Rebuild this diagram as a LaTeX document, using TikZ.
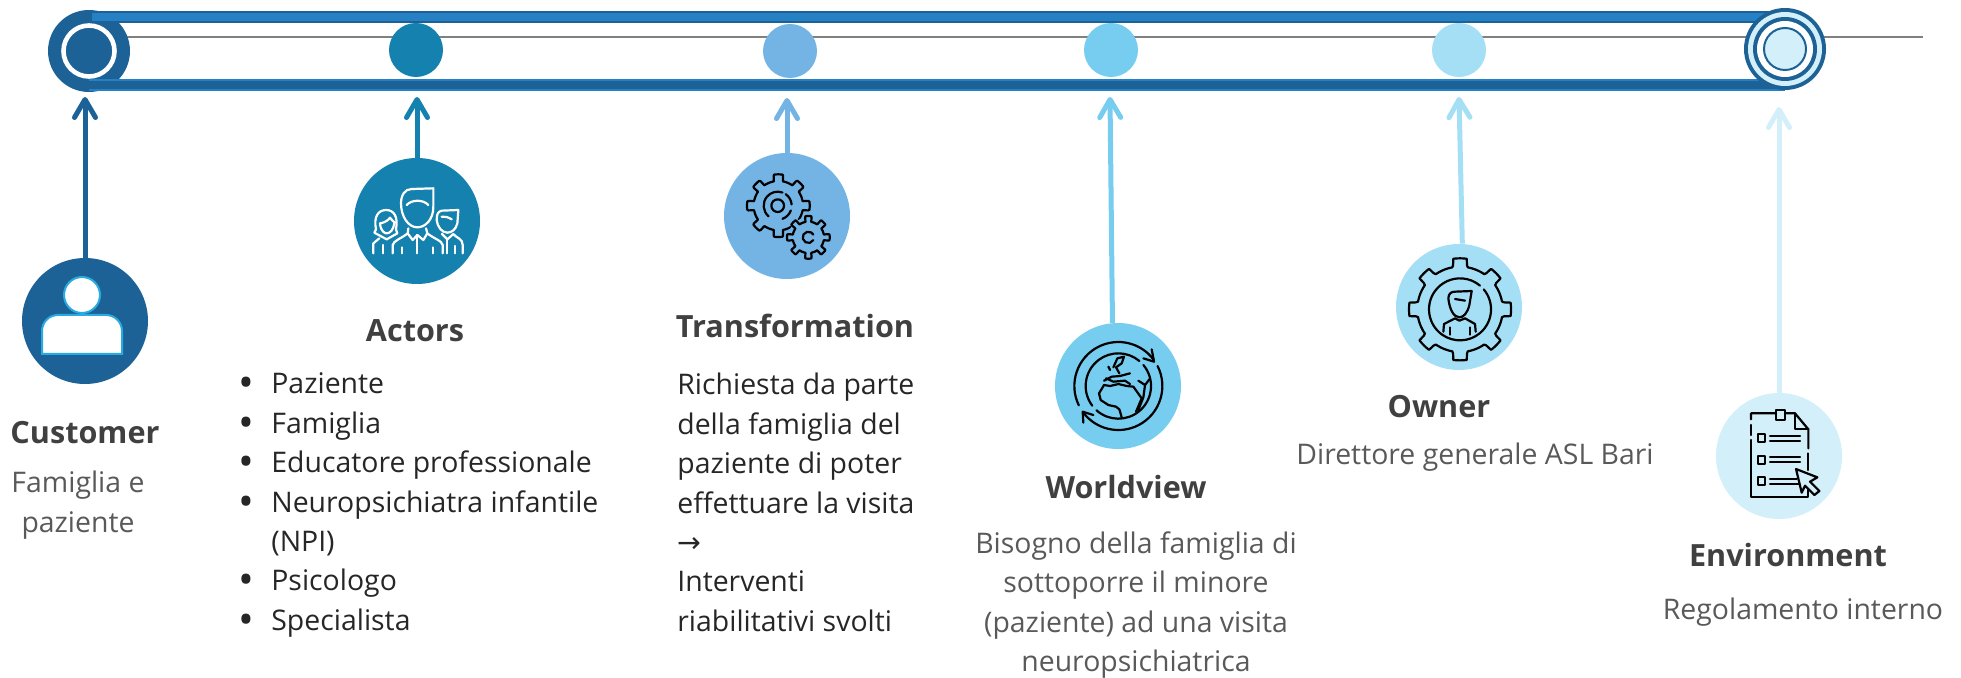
\documentclass[tikz,border=0pt]{standalone}
\usepackage{fontspec}
\setmainfont{Open Sans}
\newfontfamily\symbfont{DejaVu Sans}
\usepackage{tikz}
\usetikzlibrary{arrows.meta,positioning}
\definecolor{custC}{HTML}{1D6296}
\definecolor{actC}{HTML}{1581AF}
\definecolor{transC}{HTML}{73B4E4}
\definecolor{worldC}{HTML}{76CDF0}
\definecolor{ownC}{HTML}{A5DFF6}
\definecolor{envC}{HTML}{D3EFFA}
\definecolor{bandC}{HTML}{2581C4}
\definecolor{ringC}{HTML}{29ABE2}
\newcommand{\gearicon}[5]{\draw[icon] plot[samples=241,domain=0:360,variable=\t,smooth]
  ({#1+(#3+#4*max(0,min(1,4*(cos(8*\t)-#5))))*cos(\t)},{#2+(#3+#4*max(0,min(1,4*(cos(8*\t)-#5))))*sin(\t)}) -- cycle;}
\newcommand{\blt}{\raisebox{-2pt}{\fontsize{21}{19}\selectfont\textbullet}}

\begin{document}
\begin{tikzpicture}[>={Straight Barb[length=9pt,width=10.5pt,round]}, x=0.5pt, y=-0.5pt]
\tikzstyle{big}=[circle,inner sep=0pt,minimum size=63pt]
\tikzstyle{dot}=[circle,inner sep=0pt,minimum size=27pt]
\tikzstyle{disc}=[circle,inner sep=0pt]
\tikzstyle{flow}=[->,line width=2.5pt,line cap=butt]
\tikzstyle{title}=[font=\fontsize{15.3}{20}\selectfont\bfseries,text=black!75,inner sep=0pt]
\tikzstyle{body}=[font=\fontsize{14.2}{19.7}\selectfont,inner sep=0pt,align=center,text=black!65]
\tikzstyle{list}=[font=\fontsize{14.2}{19.7}\selectfont,inner sep=0pt,align=left,text=black!85]
\tikzstyle{icon}=[line width=1.1pt,draw=black,line cap=round,line join=round]
\tikzstyle{wicon}=[line width=1.1pt,draw=white,line cap=round,line join=round]
\useasboundingbox (0,0) rectangle (1961,678);

% timeline
\coordinate (axisL) at (89,37);
\coordinate (axisR) at (1923,37);
\draw[black!50,line width=.6pt] (axisL) -- (axisR);

\node[disc,fill=custC,minimum size=41pt] (hubL) at (89,51) {};
\node[disc,fill=custC,draw=white,line width=2.3pt,minimum size=25.5pt] (hubLi) at (hubL) {};

\coordinate (topL) at (92,17);
\coordinate (topR) at (1785,17);
\coordinate (lowL) at (89,85);
\coordinate (lowR) at (1785,85);
\draw[custC,line width=6pt] (topL) -- (topR);
\draw[bandC,line width=3.6pt] (topL) -- (topR);
\draw[bandC,line width=6pt] (lowL) -- (lowR);
\draw[custC,line width=3.6pt] (lowL) -- (lowR);

\node[disc,fill=custC,minimum size=41pt] (hubR) at (1785,49) {};
\node[disc,fill=envC,minimum size=37pt] (hubRa) at (hubR) {};
\node[disc,fill=custC,minimum size=32pt] (hubRb) at (hubR) {};
\node[disc,fill=white,minimum size=28pt] (hubRc) at (hubR) {};
\node[disc,fill=envC,draw=custC,line width=1pt,minimum size=21pt] (hubRd) at (hubR) {};

\node[dot,fill=actC]   (dotA) at (416,50)  {};
\node[dot,fill=transC] (dotT) at (790,51)  {};
\node[dot,fill=worldC] (dotW) at (1111,50) {};
\node[dot,fill=ownC]   (dotO) at (1459,50) {};

% circles
\node[big,fill=custC]  (customer) at (85,321)   {};
\node[big,fill=actC]   (actors)   at (417,221)  {};
\node[big,fill=transC] (transf)   at (787,216)  {};
\node[big,fill=worldC] (worldv)   at (1118,386) {};
\node[big,fill=ownC]   (owner)    at (1459,307) {};
\node[big,fill=envC]   (environ)  at (1779,456) {};

\coordinate (tipC) at (85,97);
\coordinate (tipA) at (417,97);
\coordinate (tipT) at (787,98);
\coordinate (tipW) at (1110,97);
\coordinate (tipO) at (1459,97);
\coordinate (tipE) at (1779,107);

\path
(customer.north) edge[flow,custC]   (tipC)
(actors.north)   edge[flow,actC]    (tipA)
(transf.north)   edge[flow,transC]  (tipT)
(worldv.95)      edge[flow,worldC]  (tipW)
(owner.87)       edge[flow,ownC]    (tipO)
(environ.north)  edge[flow,envC]    (tipE);

% customer icon
\draw[fill=white,draw=ringC,line width=1pt] (82,295) circle (18);
\draw[fill=white,draw=ringC,line width=1pt] (42,354) {[rounded corners=8pt] -- (42,315) -- (122,315)} -- (122,354) -- cycle;

% actors icon
\begin{scope}[shift={(340,170)},x=0.1667pt,y=-0.1667pt]
\draw[wicon] (183,100) .. controls (183,75) and (195,57) .. (215,57) -- (280,55) -- (280,110) .. controls (280,150) and (255,172) .. (232,172) .. controls (205,172) and (183,140) .. (183,100);
\draw[wicon] (200,105) .. controls (215,88) and (250,88) .. (265,105);
\draw[wicon] (158,250) -- (158,225) .. controls (160,212) and (185,205) .. (203,190) -- (205,175);
\draw[wicon] (308,250) -- (308,225) .. controls (306,212) and (280,205) .. (262,190) -- (258,175);
\draw[wicon] (203,190) -- (218,210) -- (232,195) -- (250,210) -- (262,190);
\draw[wicon] (232,195) -- (232,250) (185,232) -- (185,250) (278,232) -- (278,250);
\draw[wicon] (108,178) .. controls (100,140) and (115,120) .. (138,120) .. controls (162,120) and (175,140) .. (168,178);
\draw[wicon] (120,160) .. controls (135,158) and (145,150) .. (150,143) .. controls (155,150) and (160,155) .. (165,158);
\draw[wicon] (120,160) .. controls (122,185) and (135,190) .. (140,190) .. controls (150,190) and (160,180) .. (163,160);
\draw[wicon] (108,178) -- (103,188) -- (140,208) -- (172,190) -- (168,178);
\draw[wicon] (100,250) -- (100,220) -- (118,205);
\draw[wicon] (128,225) -- (128,250);
\draw[wicon] (290,150) .. controls (290,130) and (295,125) .. (305,122) -- (355,120) -- (352,160) .. controls (348,178) and (335,188) .. (322,188) .. controls (305,188) and (292,170) .. (290,150);
\draw[wicon] (305,140) .. controls (315,138) and (325,142) .. (335,148);
\draw[wicon] (306,192) -- (322,208) -- (340,192) .. controls (350,205) and (368,205) .. (368,225) -- (368,250);
\draw[wicon] (322,208) -- (322,250) (345,228) -- (345,250);
\end{scope}

% transformation icon
\begin{scope}[shift={(700,130)},x=0.1667pt,y=-0.1667pt]
\gearicon{235}{227}{74}{20}{.1}
\draw[icon] (233,227) circle (19);
\draw[icon] ([shift={(233,227)}]130:42) arc[start angle=130,end angle=290,radius=42];
\draw[icon] ([shift={(233,227)}]305:42) arc[start angle=305,end angle=355,radius=42];
\draw[icon] ([shift={(233,227)}]20:42) arc[start angle=20,end angle=70,radius=42];
\draw[fill=transC,draw=none] (325,322) circle (60);
\gearicon{325}{322}{47}{17}{.1}
\draw[icon] ([shift={(325,322)}]30:17) arc[start angle=30,end angle=330,radius=17];
\end{scope}

% worldview icon
\begin{scope}[shift={(1030,310)},x=0.1667pt,y=-0.1667pt]
\draw[icon] ([shift={(265,228)}]154:132) arc[start angle=154,end angle=323,radius=132];
\draw[icon] (340,145) -- (372,155) -- (365,118);
\draw[icon] ([shift={(265,228)}]333:132) arc[start angle=333,end angle=503,radius=132];
\draw[icon] (160,338) -- (158,305) -- (190,315);
\draw[icon] ([shift={(265,228)}]143:98) arc[start angle=143,end angle=310,radius=98];
\draw[icon] ([shift={(265,228)}]320:98) arc[start angle=320,end angle=492,radius=98];
\draw[icon] (222,225) -- (207,250) -- (212,270) -- (235,285) -- (258,290) -- (268,298) -- (275,322);
\draw[icon] (318,305) -- (335,265) -- (310,230) -- (290,228) -- (265,222) -- (240,228) -- (222,225);
\draw[icon] (325,212) -- (345,225) -- (358,208);
\draw[icon] (345,225) -- (340,262) -- (325,300);
\draw[icon] (222,212) -- (245,200) -- (270,198) -- (300,190);
\draw[icon] (228,205) -- (250,215) -- (285,212) -- (300,222);
\draw[icon] (250,172) -- (262,145) -- (282,140) -- (275,160) -- (258,172) -- (268,190);
\draw[icon] (235,170) -- (240,180);
\end{scope}

% owner icon
\begin{scope}[shift={(1370,230)},x=0.1667pt,y=-0.1667pt]
\gearicon{270}{238}{128}{25}{.25}
\draw[icon] ([shift={(270,238)}]125:93) arc[start angle=125,end angle=310,radius=93];
\draw[icon] ([shift={(270,238)}]320:93) arc[start angle=320,end angle=485,radius=93];
\draw[icon] (235,205) .. controls (235,190) and (245,185) .. (255,185) -- (305,183) -- (298,225) .. controls (292,250) and (280,262) .. (268,262) .. controls (250,262) and (238,235) .. (235,205);
\draw[icon] (255,207) -- (285,212);
\draw[icon] (220,305) -- (222,282) -- (255,265) -- (268,272) -- (285,265) -- (315,282) -- (317,305);
\draw[icon] (240,292) -- (240,314) (300,292) -- (300,314);
\end{scope}

% environment icon
\begin{scope}[shift={(1690,380)},x=0.1667pt,y=-0.1667pt]
\draw[icon] (183,118) -- (183,100) -- (258,100) (285,100) -- (315,100) -- (355,148) -- (355,205);
\draw[icon] (183,135) -- (183,165) (183,180) -- (183,352) -- (355,352) -- (355,330) (355,220) -- (355,270);
\draw[icon] (315,100) -- (315,148) -- (355,148);
\draw[icon] (258,91) rectangle (285,120);
\draw[icon] (205,163) rectangle (225,187) (205,228) rectangle (225,252) (205,292) rectangle (225,316);
\draw[icon] (240,167) -- (330,167) (240,183) -- (330,183) (240,232) -- (330,232) (240,247) -- (330,247) (240,296) -- (320,296) (240,312) -- (335,312);
\draw[icon,fill=envC] (318,267) -- (382,292) -- (360,305) -- (388,333) -- (373,345) -- (345,317) -- (335,338) -- cycle;
\end{scope}

% texts
\node[title] (tCustomer) at (85,433) {Customer};
\node[body,below=13pt of tCustomer,xshift=-3.5pt] (bCustomer) {Famiglia e\\paziente};
\node[title] (tActors) at (415,331) {Actors};
\node[list,anchor=north west] (bActors) at (238,366) {%
\begin{tabular}{@{}p{16.5pt}@{}l@{}}
\blt & Paziente\\
\blt & Famiglia\\
\blt & Educatore professionale\\
\blt & Neuropsichiatra infantile\\
 & (NPI)\\
\blt & Psicologo\\
\blt & Specialista
\end{tabular}};
\node[title] (tTransf) at (795,326) {Transformation};
\node[list,anchor=north west] (bTransf) at (677,373) {Richiesta da parte\\della famiglia del\\paziente di poter\\effettuare la visita\\{\symbfont →}\\Interventi\\riabilitativi svolti};
\node[title] (tWorld) at (1126,487) {Worldview};
\node[body,below=16pt of tWorld,xshift=5pt] (bWorld) {Bisogno della famiglia di\\sottoporre il minore\\(paziente) ad una visita\\neuropsichiatrica};
\node[title] (tOwner) at (1439,407) {Owner};
\node[body,below=12pt of tOwner,xshift=18pt] (bOwner) {Direttore generale ASL Bari};
\node[title] (tEnv) at (1788,555) {Environment};
\node[body,below=15pt of tEnv,xshift=7.5pt] (bEnv) {Regolamento interno};
\end{tikzpicture}
\end{document}
